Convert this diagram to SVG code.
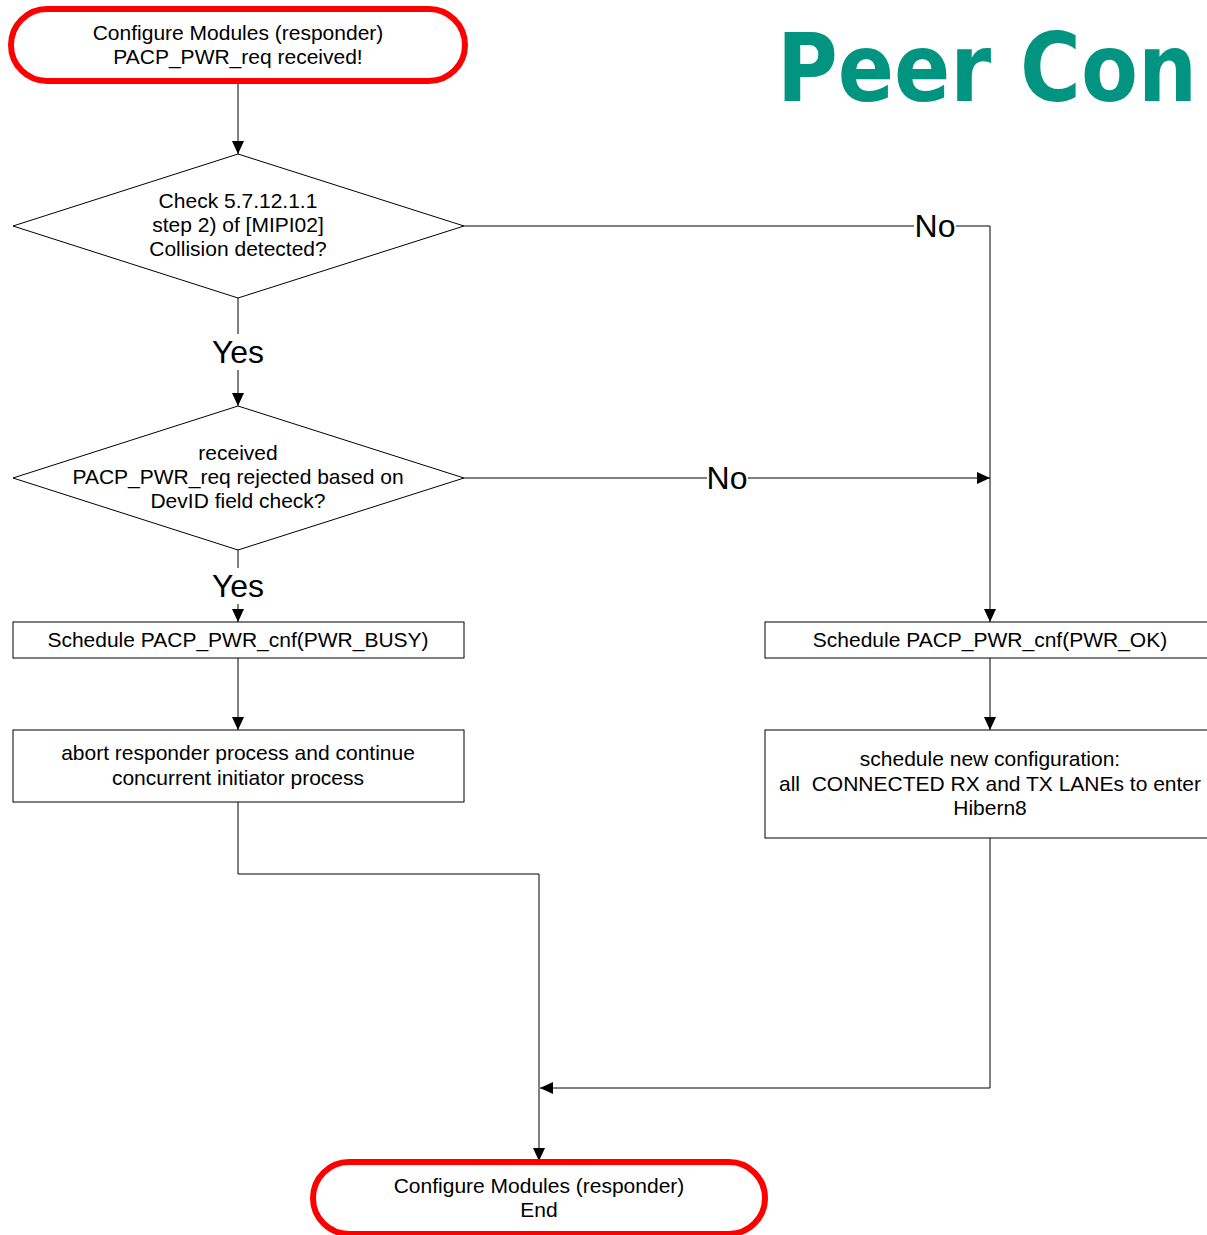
<svg xmlns="http://www.w3.org/2000/svg" width="1207" height="1235" viewBox="0 0 1207 1235">
<defs>
<marker id="ah" markerWidth="14" markerHeight="14" refX="13" refY="7" orient="auto" markerUnits="userSpaceOnUse">
<path d="M0,1 L13,7 L0,13 Z" fill="#000"/>
</marker>
<style>
.t{font-family:"Liberation Sans",Arial,sans-serif;font-size:21px;fill:#000;text-anchor:middle}
.lbl{font-family:"Liberation Sans",Arial,sans-serif;font-size:32px;fill:#000;text-anchor:middle}
.term{fill:#fff;stroke:#f00;stroke-width:6}
.box{fill:#fff;stroke:#000;stroke-width:1}
.c{fill:none;stroke:#000;stroke-width:1}
</style>
</defs>
<rect width="1207" height="1235" fill="#fff"/>
<text x="777" y="101" font-family="DejaVu Sans,Verdana,sans-serif" font-weight="bold" font-size="94" fill="#009481" textLength="420" lengthAdjust="spacingAndGlyphs">Peer Con</text>
<g id="connectors">
<path class="c" d="M238,82 V154" marker-end="url(#ah)"/>
<path class="c" d="M238,298 V334 M238,370 V406" marker-end="url(#ah)"/>
<path class="c" d="M464,226 H914 M956,226 H990 V622" marker-end="url(#ah)"/>
<path class="c" d="M464,478 H707 M748,478 H990" marker-end="url(#ah)"/>
<path class="c" d="M238,550 V568 M238,604 V622" marker-end="url(#ah)"/>
<path class="c" d="M238,658 V730" marker-end="url(#ah)"/>
<path class="c" d="M990,658 V730" marker-end="url(#ah)"/>
<path class="c" d="M238,802 V874 H539 V1161" marker-end="url(#ah)"/>
<path class="c" d="M990,838 V1088 H540" marker-end="url(#ah)"/>
<text class="lbl" x="238" y="363">Yes</text>
<text class="lbl" x="238" y="597">Yes</text>
<text class="lbl" x="935" y="237">No</text>
<text class="lbl" x="727" y="489">No</text>
</g>
<g id="start">
<rect class="term" x="11" y="9" width="454" height="72" rx="36"/>
<text class="t" x="238" y="40">Configure Modules (responder)</text>
<text class="t" x="238" y="64">PACP_PWR_req received!</text>
</g>
<g id="collision">
<polygon class="box" points="238,154 464,226 238,298 13,226"/>
<text class="t" x="238" y="208">Check 5.7.12.1.1</text>
<text class="t" x="238" y="232">step 2) of [MIPI02]</text>
<text class="t" x="238" y="256">Collision detected?</text>
</g>
<g id="rejected">
<polygon class="box" points="238,406 464,478 238,550 13,478"/>
<text class="t" x="238" y="460">received</text>
<text class="t" x="238" y="484">PACP_PWR_req rejected based on</text>
<text class="t" x="238" y="508">DevID field check?</text>
</g>
<g id="busy">
<rect class="box" x="13" y="622" width="451" height="36"/>
<text class="t" x="238" y="647">Schedule PACP_PWR_cnf(PWR_BUSY)</text>
</g>
<g id="abort">
<rect class="box" x="13" y="730" width="451" height="72"/>
<text class="t" x="238" y="760">abort responder process and continue</text>
<text class="t" x="238" y="785">concurrent initiator process</text>
</g>
<g id="ok">
<rect class="box" x="765" y="622" width="451" height="36"/>
<text class="t" x="990" y="647">Schedule PACP_PWR_cnf(PWR_OK)</text>
</g>
<g id="hibern">
<rect class="box" x="765" y="730" width="451" height="108"/>
<text class="t" x="990" y="766">schedule new configuration:</text>
<text class="t" x="990" y="791" xml:space="preserve">all  CONNECTED RX and TX LANEs to enter</text>
<text class="t" x="990" y="815">Hibern8</text>
</g>
<g id="end">
<rect class="term" x="313" y="1162" width="452" height="72" rx="36"/>
<text class="t" x="539" y="1193">Configure Modules (responder)</text>
<text class="t" x="539" y="1217">End</text>
</g>
</svg>
